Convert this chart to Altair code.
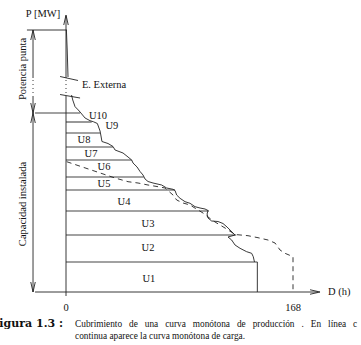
import altair as alt
import pandas as pd

# ---- values (x: hours, y: MW, arbitrary schematic scale) ----
# load duration curve (solid)
load_h = [0.3, 0.9, 1.5,
          4.1, 5.0, 6.7, 9.1, 10.4, 14.1, 17.8, 20.4, 23.2, 25.2, 25.9, 26.6, 31.1, 34.8,
          36.3, 42.2, 45.9, 48.6, 49.6, 52.6, 54.8, 57.0, 58.5, 60.7, 64.4, 70.8, 74.5,
          79.2, 80.7, 81.9, 84.4, 88.1, 91.8, 95.5, 99.2, 102.9, 105.1, 104.4, 105.1,
          107.8, 112.5, 116.2, 119.2, 121.4, 123.6, 125.1, 119.9, 122.6, 125.1, 128.8,
          133.7, 137.4, 138.6, 139.5]
load_p = [262, 242, 215,
          197, 192, 185.3, 182, 180, 174, 171.3, 170.2, 168.5, 161, 156, 150.5, 148.5, 145.5,
          142, 139, 135, 132, 129, 125, 120.5, 117, 113, 110.5, 109, 107, 104,
          102.7, 101.5, 97, 93.7, 90.3, 88.7, 85.3, 84, 83, 81.5, 78, 74,
          71, 70.5, 68.5, 65, 62, 59, 57, 55, 52, 47, 43.7,
          40.3, 38.7, 35.3, 30]
load_part = [0, 0, 0] + [1] * 54

# production curve (dashed)
prod_h = [0.5, 36.3, 45.9, 53.3, 60.7, 68.1, 73.3, 79.2, 81.9, 86.6, 91.8, 97.7,
          101.4, 105.1, 110.3, 117.7, 125.1, 134.7, 142.1, 149.5, 154.7, 158.4, 162.1,
          168.0, 168.0]
prod_p = [130.3, 114, 110.3, 109, 107, 105.3, 104, 97, 92, 89, 87, 82,
          79, 75, 70, 64, 57.5, 56.3, 54.3, 52, 49, 42, 38.7,
          35.3, 0]

# generating units: top of each block and the hours it runs
units = ["U1", "U2", "U3", "U4", "U5", "U6", "U7", "U8", "U9", "U10"]
unit_top = [30, 57, 81, 102, 115, 132, 145, 159, 170, 179]
unit_from = [0, 0, 0, 0, 0, 0, 0, 0, 0, -22.9]
unit_to = [141.6, 126.0, 105.8, 80.7, 57.5, 48.6, 34.8, 25.2, 19.0, 10.4]
unit_label_h = [61.4, 60.7, 60.7, 42.9, 28.1, 28.1, 18.5, 13.3, 34.0, 23.7]
unit_label_p = [13, 44, 68, 90, 108, 125, 138, 152, 166, 176]

# axes, brackets (x0, y0, x1, y1)
solid_x = [-22.9, 0, 0, -28.9, -24.4, -24.4, -24.4, 141.6]
solid_y = [0, -4, 214, 262, 262, 195, 179, 0]
solid_x2 = [186.5, 0, 0, 0.7, -24.4, -24.4, -24.4, 141.6]
solid_y2 = [0, 195, 276, 262, 214, 179, 0, 30]
# slanted break marks
break_x = [-4.4, 8.9, -4.4, 10.4]
break_y = [215.5, 211.5, 197.5, 194]
break_id = [0, 0, 1, 1]
dotted_x = [0, -24.4]
dotted_y = [195, 195]
dotted_y2 = [214, 214]

arrow_h = [0, 188, -24.4, -24.4, -24.4, -24.4]
arrow_p = [277, 0, 262, 179, 179, 0]
arrow_dir = [0, 90, 0, 180, 0, 180]

# texts
plain_text = ["E. Externa", "D (h)"]
plain_h = [11.8, 193.9]
plain_p = [207, 0]
center_text = ["P [MW]", "0", "168"]
center_h = [-17, 0, 168]
center_p = [278, -16, -16]
side_text = ["Potencia punta", "Capacidad instalada"]
side_h = [-31.8, -31.8]
side_p = [223, 88]
caption_lines = ["Cubrimiento de una curva monótona de producción . En línea c",
                 "continua aparece la curva monótona de carga."]
caption_h = [6.7, 6.7]
caption_p = [-32, -44]
figure_tag = ["Figura 1.3 :"]
figure_h = [-2.2]
figure_p = [-32]

# first caption line is justified (stretched) in the reference
NB = "\u00a0"
caption_shown = [caption_lines[0].replace(" ", " " + NB + NB), caption_lines[1]]

# ---- chart ----
XS = alt.Scale(domain=[-48.846, 218.326], nice=False, zero=False)
YS = alt.Scale(domain=[-53, 292], nice=False, zero=False)
INK = "#222222"
FONT = "DejaVu Serif"
FONT2 = "Liberation Serif"


def X(f):
    return alt.X(f, type="quantitative", scale=XS, axis=None)


def Y(f):
    return alt.Y(f, type="quantitative", scale=YS, axis=None)


load_df = pd.DataFrame({"h": load_h, "p": load_p, "part": load_part,
                        "i": list(range(len(load_h)))})
prod_df = pd.DataFrame({"h": prod_h, "p": prod_p, "i": list(range(len(prod_h)))})
unit_df = pd.DataFrame({"u": units, "top": unit_top, "x0": unit_from, "x1": unit_to,
                        "lh": unit_label_h, "lp": unit_label_p})
solid_df = pd.DataFrame({"x": solid_x, "y": solid_y, "x2": solid_x2, "y2": solid_y2})
break_df = pd.DataFrame({"x": break_x, "y": break_y, "b": break_id})
dotted_df = pd.DataFrame({"x": dotted_x, "y": dotted_y, "y2": dotted_y2})
arrow_df = pd.DataFrame({"h": arrow_h, "p": arrow_p, "a": arrow_dir})

load = alt.Chart(load_df).mark_line(color=INK, strokeWidth=0.9).encode(
    x=X("h"), y=Y("p"), detail="part:N", order="i:Q")
prod = alt.Chart(prod_df).mark_line(color=INK, strokeWidth=0.9, strokeDash=[5, 4]).encode(
    x=X("h"), y=Y("p"), order="i:Q")
unit_lines = alt.Chart(unit_df).mark_rule(color="#444444", strokeWidth=1.1).encode(
    x=X("x0"), x2="x1", y=Y("top"))
unit_labels = alt.Chart(unit_df).mark_text(font=FONT2, fontSize=10.5, color="#111111").encode(
    x=X("lh"), y=Y("lp"), text="u:N")
solid = alt.Chart(solid_df).mark_rule(color=INK, strokeWidth=0.9).encode(
    x=X("x"), x2="x2", y=Y("y"), y2="y2")
breaks = alt.Chart(break_df).mark_line(color=INK, strokeWidth=0.9).encode(
    x=X("x"), y=Y("y"), detail="b:N")
dotted = alt.Chart(dotted_df).mark_rule(color=INK, strokeWidth=0.9, strokeDash=[1, 3]).encode(
    x=X("x"), y=Y("y"), y2="y2")
arrows = alt.Chart(arrow_df).mark_point(
    shape="M -0.45 2 L 0 0 L 0.45 2", size=100, filled=False, color=INK, strokeWidth=0.9,
    opacity=1).encode(x=X("h"), y=Y("p"), angle=alt.Angle("a:Q", scale=None))

plain = alt.Chart(pd.DataFrame({"t": plain_text, "h": plain_h, "p": plain_p})).mark_text(
    font=FONT2, fontSize=10.5, align="left", color="#111111").encode(x=X("h"), y=Y("p"), text="t:N")
center = alt.Chart(pd.DataFrame({"t": center_text, "h": center_h, "p": center_p})).mark_text(
    font=FONT2, fontSize=10.5, align="center", color="#111111").encode(x=X("h"), y=Y("p"), text="t:N")
side = alt.Chart(pd.DataFrame({"t": side_text, "h": side_h, "p": side_p})).mark_text(
    font=FONT2, fontSize=10.5, align="center", angle=270, color="#111111").encode(
    x=X("h"), y=Y("p"), text="t:N")
caption = alt.Chart(pd.DataFrame({"t": caption_shown, "h": caption_h, "p": caption_p})).mark_text(
    font=FONT2, fontSize=9.3, align="left", color="#111111").encode(x=X("h"), y=Y("p"), text="t:N")
tag = alt.Chart(pd.DataFrame({"t": figure_tag, "h": figure_h, "p": figure_p})).mark_text(
    font=FONT, fontSize=11, fontWeight="bold", align="right", color="#111111").encode(
    x=X("h"), y=Y("p"), text="t:N")

chart = alt.layer(unit_lines, solid, dotted, breaks, load, prod, arrows,
                  unit_labels, plain, center, side, caption, tag).properties(
    width=361, height=345, padding=0,
    autosize=alt.AutoSizeParams(type="none"),
    background="white",
).configure_view(stroke=None)

chart.save("out.html", embed_options={"renderer": "svg", "actions": False})
